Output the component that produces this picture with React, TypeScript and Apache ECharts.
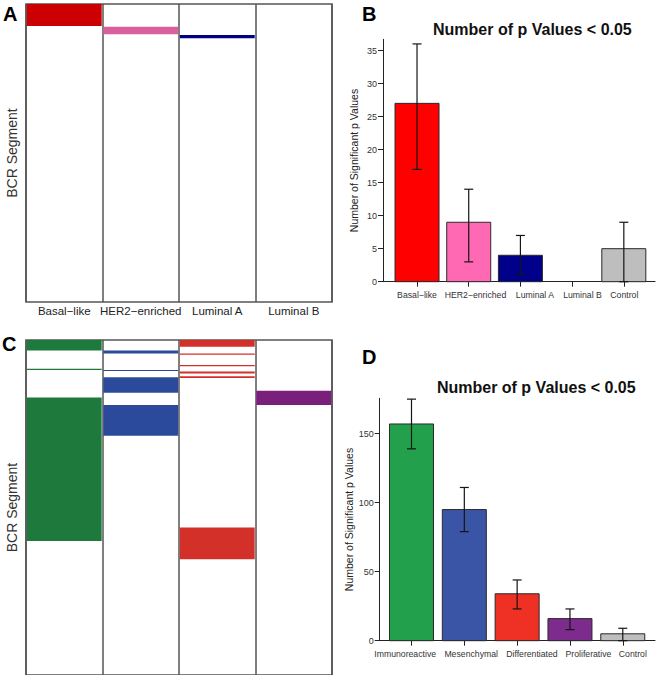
import React, { useEffect, useRef } from 'react';
import * as echarts from 'echarts';

const FONT = '"Liberation Sans", Arial, sans-serif';

// Panel A: significant BCR segments per subtype (row ranges, top = segment 0)
const subtypesA = ['Basal\u2212like', 'HER2\u2212enriched', 'Luminal A', 'Luminal B'];
const segmentCountA = 365;
const basalLikeRows = [[0, 27]];
const her2Rows = [[28, 37]];
const luminalARows = [[38, 42]];
const luminalBRows: number[][] = [];
const colorsA = ['#cc0000', '#d8609c', '#000080', '#888888'];

// Panel C
const subtypesC = ['Immunoreactive', 'Mesenchymal', 'Differentiated', 'Proliferative'];
const segmentCountC = 350;
const immunoreactiveRows = [[0, 11], [30, 31.3], [60, 210]];
const mesenchymalRows = [[11, 14], [31.3, 32.3], [39, 55], [68, 100]];
const differentiatedRows = [[0, 7], [14, 15.5], [26, 27.3], [33, 35], [38, 39.6], [196, 229]];
const proliferativeRows = [[53, 68]];
const colorsC = ['#1d7a3c', '#2c4a9b', '#d3302a', '#7a1f7c'];

// Panel B
const categoriesB = ['Basal\u2212like', 'HER2\u2212enriched', 'Luminal A', 'Luminal B', 'Control'];
const valuesB = [27, 9, 4, 0, 5];
const lowB = [17, 3, 1, null, 0];
const highB = [36, 14, 7, null, 9];
const colorsB = ['#ff0000', '#ff69b4', '#00008b', '#888888', '#bebebe'];
const ticksB = [0, 5, 10, 15, 20, 25, 30, 35];

// Panel D
const categoriesD = ['Immunoreactive', 'Mesenchymal', 'Differentiated', 'Proliferative', 'Control'];
const valuesD = [157, 95, 34, 16, 5];
const lowD = [139, 79, 23, 8, 0];
const highD = [175, 111, 44, 23, 9];
const colorsD = ['#22a04b', '#3a55a5', '#ee3124', '#7e2b8e', '#bebebe'];
const ticksD = [0, 50, 100, 150];

// label anchor offsets (layout only, in axis units)
const labelPosB = [0, 1.13, 2.28, 3.2, 4.01];
const labelPosD = [-0.12, 1.13, 2.28, 3.35, 4.19];

function rowsToData(groups: number[][][]) {
  const out: number[][] = [];
  groups.forEach((g, col) => g.forEach((r) => out.push([col, r[0], r[1]])));
  return out;
}

function bandRenderer(colors: string[]) {
  return (params: any, api: any) => {
    const col = api.value(0);
    const p0 = api.coord([col, api.value(1)]);
    const p1 = api.coord([col, api.value(2)]);
    const w = api.size([1, 0])[0];
    return {
      type: 'rect',
      shape: { x: p0[0] - w / 2 + 0.8, y: p0[1], width: w - 1.6, height: Math.max(p1[1] - p0[1], 1) },
      style: { fill: colors[col] },
    };
  };
}

function barRenderer(colors: string[]) {
  return (params: any, api: any) => {
    const i = api.value(0);
    const v = api.value(1);
    if (!v) return null;
    const top = api.coord([i, v]);
    const base = api.coord([i, 0]);
    return {
      type: 'rect',
      shape: { x: top[0] - 22, y: top[1], width: 44, height: base[1] - top[1] },
      style: { fill: colors[i], stroke: '#2a2a2a', lineWidth: 1 },
    };
  };
}

function errRenderer(params: any, api: any) {
  const i = api.value(0);
  const lo = api.coord([i, api.value(1)]);
  const hi = api.coord([i, api.value(2)]);
  const st = { stroke: '#151515', lineWidth: 1.2 };
  return {
    type: 'group',
    children: [
      { type: 'line', shape: { x1: lo[0], y1: lo[1], x2: hi[0], y2: hi[1] }, style: st },
      { type: 'line', shape: { x1: lo[0] - 4.5, y1: lo[1], x2: lo[0] + 4.5, y2: lo[1] }, style: st },
      { type: 'line', shape: { x1: hi[0] - 4.5, y1: hi[1], x2: hi[0] + 4.5, y2: hi[1] }, style: st },
    ],
  };
}

function valuesToData(vals: number[]) {
  return vals.map((v, i) => [i, v]);
}
function errToData(lo: (number | null)[], hi: (number | null)[]) {
  const out: number[][] = [];
  lo.forEach((l, i) => {
    if (l !== null && hi[i] !== null) out.push([i, l as number, hi[i] as number]);
  });
  return out;
}

const heatX = (gridIndex: number, data: string[], showLabel: boolean) => ({
  gridIndex,
  type: 'category',
  data,
  boundaryGap: true,
  axisLine: { show: false },
  axisTick: { show: false },
  axisLabel: { show: showLabel, fontSize: 11.5, color: '#222', margin: 3, fontFamily: FONT, interval: 0 },
  splitLine: { show: true, interval: 0, lineStyle: { color: '#555', width: 1.5 } },
});

const heatY = (gridIndex: number, max: number) => ({
  gridIndex,
  type: 'value',
  inverse: true,
  min: 0,
  max,
  axisLine: { show: false },
  axisTick: { show: false },
  axisLabel: { show: false },
  splitLine: { show: false },
  name: 'BCR Segment',
  nameLocation: 'middle',
  nameGap: 7,
  nameTextStyle: { fontSize: 14, color: '#333', fontFamily: FONT },
});

const barX = (gridIndex: number, cats: string[], labelPos: number[], min: number, max: number) => ({
  gridIndex,
  type: 'value',
  min,
  max,
  axisLine: { show: true, onZero: false, lineStyle: { color: '#222', width: 1 } },
  axisTick: { show: true, customValues: cats.map((_, i) => i), length: 5, lineStyle: { color: '#222' } },
  axisLabel: {
    customValues: labelPos,
    formatter: (v: number) => {
      const idx = labelPos.findIndex((p) => Math.abs(p - v) < 0.005);
      return idx >= 0 ? cats[idx] : '';
    },
    showMinLabel: true,
    showMaxLabel: true,
    hideOverlap: false,
    fontSize: 8.7,
    color: '#333',
    margin: 9,
    fontFamily: FONT,
  },
  splitLine: { show: false },
});

const barY = (gridIndex: number, max: number, ticks: number[], nameGap: number) => ({
  gridIndex,
  type: 'value',
  min: 0,
  max,
  axisLine: { show: true, onZero: false, lineStyle: { color: '#222', width: 1 } },
  axisTick: { show: true, customValues: ticks, length: 5, lineStyle: { color: '#222' } },
  axisLabel: { customValues: ticks, fontSize: 9, color: '#333', margin: 6, fontFamily: FONT },
  splitLine: { show: false },
  name: 'Number of Significant p Values',
  nameLocation: 'middle',
  nameGap,
  nameTextStyle: { fontSize: 10.5, color: '#222', fontFamily: FONT },
});

const letter = (t: string, x: number, y: number) => ({
  type: 'text',
  x,
  y,
  style: { text: t, fontSize: 20, fontWeight: 'bold', fontFamily: FONT, fill: '#000', verticalAlign: 'top' },
});
const title = (x: number, y: number) => ({
  type: 'text',
  x,
  y,
  style: {
    text: 'Number of p Values < 0.05',
    fontSize: 16,
    fontWeight: 'bold',
    fontFamily: FONT,
    fill: '#111',
    align: 'center',
    verticalAlign: 'middle',
  },
});

export default function App() {
  const ref = useRef<HTMLDivElement>(null);
  useEffect(() => {
    if (!ref.current) return;
    const chart = echarts.init(ref.current, null, { renderer: 'svg' });
    chart.setOption({
      animation: false,
      backgroundColor: '#ffffff',
      textStyle: { fontFamily: FONT },
      grid: [
        { left: 26, top: 4, width: 306, height: 298, show: true, borderColor: '#555', borderWidth: 1.5, backgroundColor: 'transparent' },
        { left: 383, top: 39.3, width: 272, height: 242.4 },
        { left: 26, top: 340, width: 306, height: 350, show: true, borderColor: '#555', borderWidth: 1.5, backgroundColor: 'transparent' },
        { left: 379.7, top: 398.3, width: 275.3, height: 242.4 },
      ],
      xAxis: [
        heatX(0, subtypesA, true),
        barX(1, categoriesB, labelPosB, -0.658, 4.603),
        heatX(2, subtypesC, false),
        barX(3, categoriesD, labelPosD, -0.602, 4.61),
      ],
      yAxis: [
        heatY(0, segmentCountA),
        barY(1, 36.7, ticksB, 24),
        heatY(2, segmentCountC),
        barY(3, 175.6, ticksD, 21),
      ],
      graphic: [letter('A', 3, 4), letter('B', 362, 4), letter('C', 2, 334), letter('D', 362, 347), title(532.4, 29.3), title(536.3, 387)],
      series: [
        {
          type: 'custom',
          xAxisIndex: 0,
          yAxisIndex: 0,
          renderItem: bandRenderer(colorsA),
          data: rowsToData([basalLikeRows, her2Rows, luminalARows, luminalBRows]),
          clip: true,
        },
        {
          type: 'custom',
          xAxisIndex: 2,
          yAxisIndex: 2,
          renderItem: bandRenderer(colorsC),
          data: rowsToData([immunoreactiveRows, mesenchymalRows, differentiatedRows, proliferativeRows]),
          clip: true,
        },
        { type: 'custom', xAxisIndex: 1, yAxisIndex: 1, renderItem: barRenderer(colorsB), data: valuesToData(valuesB) },
        { type: 'custom', xAxisIndex: 1, yAxisIndex: 1, renderItem: errRenderer, data: errToData(lowB, highB) },
        { type: 'custom', xAxisIndex: 3, yAxisIndex: 3, renderItem: barRenderer(colorsD), data: valuesToData(valuesD) },
        { type: 'custom', xAxisIndex: 3, yAxisIndex: 3, renderItem: errRenderer, data: errToData(lowD, highD) },
      ],
    });
    return () => chart.dispose();
  }, []);
  return (
    <div
      ref={ref}
      style={{ position: 'fixed', left: 0, top: 0, width: 666, height: 675, background: '#fff' }}
    />
  );
}
